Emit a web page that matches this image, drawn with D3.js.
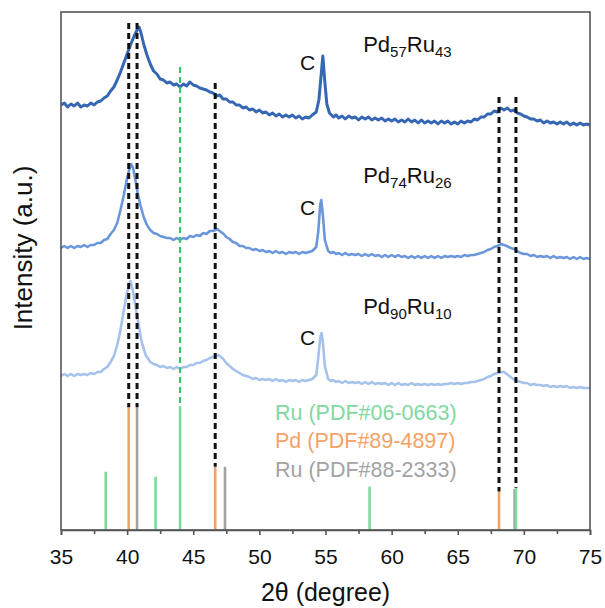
<!DOCTYPE html>
<html>
<head>
<meta charset="utf-8">
<script src="https://cdn.jsdelivr.net/npm/d3@7"></script>
<style>
  html, body { margin: 0; padding: 0; background: #fff; }
  svg { display: block; font-family: "Liberation Sans", Arial, sans-serif; }
</style>
</head>
<body>
<svg id="chart" width="605" height="608"></svg>
<script>
// XRD patterns, [2θ (deg), intensity (a.u., stacked offsets included)]
const pd57ru43 = [
  [35,425],[35.25,427],[35.5,423],[35.75,426],[36,424],[36.25,427],[36.5,423],[36.75,425],[37,424],[37.25,427],
  [37.5,425],[37.75,428],[38,429],[38.25,432],[38.5,434],[38.75,439],[39,443],[39.25,450],[39.5,458],[39.75,467],
  [40,476],[40.25,485],[40.5,493],[40.75,500],[40.9,503],[41.05,497],[41.25,486],[41.5,475],[41.75,466],[42,459],
  [42.25,456],[42.5,451],[42.75,450],[43,447],[43.25,448],[43.5,445],[43.75,446],[44,443],[44.25,446],[44.5,444],
  [44.75,448],[45,445],[45.25,444],[45.5,442],[45.75,441],[46,440],[46.25,438],[46.5,437],[46.75,434],[47,435],
  [47.25,431],[47.5,431],[47.75,428],[48,428],[48.25,425],[48.5,425],[48.75,422],[49,423],[49.25,420],[49.5,421],
  [49.75,418],[50,420],[50.25,417],[50.5,418],[50.75,415],[51,417],[51.25,414],[51.5,416],[51.75,413],[52,415],
  [52.25,413],[52.5,415],[52.75,412],[53,414],[53.25,411],[53.5,413],[53.75,412],[54,415],[54.3,418],[54.5,430],
  [54.65,452],[54.8,474],[54.95,448],[55.1,426],[55.3,417],[55.6,413],[55.8,415],[56,412],[56.25,414],[56.5,411],
  [56.75,414],[57,412],[57.25,413],[57.5,410],[57.75,413],[58,411],[58.25,413],[58.5,410],[58.75,412],[59,410],
  [59.25,412],[59.5,409],[59.75,411],[60,409],[60.25,411],[60.5,408],[60.75,410],[61,408],[61.25,411],[61.5,408],
  [61.75,410],[62,407],[62.25,410],[62.5,407],[62.75,409],[63,407],[63.25,409],[63.5,406],[63.75,409],[64,407],
  [64.25,409],[64.5,406],[64.75,408],[65,406],[65.25,409],[65.5,407],[65.75,409],[66,408],[66.25,411],[66.5,410],
  [66.75,413],[67,413],[67.25,416],[67.5,416],[67.75,419],[68,418],[68.25,422],[68.5,420],[68.75,422],[69,419],
  [69.25,420],[69.5,417],[69.75,416],[70,414],[70.25,413],[70.5,411],[70.75,411],[71,409],[71.25,410],[71.5,407],
  [71.75,409],[72,407],[72.25,408],[72.5,406],[72.75,408],[73,406],[73.25,408],[73.5,405],[73.75,407],[74,405],
  [74.25,407],[74.5,405],[74.75,406],[75,405]
];
const pd74ru26 = [
  [35,282],[35.25,284],[35.5,282],[35.75,284],[36,282],[36.25,284],[36.5,283],[36.75,285],[37,283],[37.25,285],
  [37.5,285],[37.75,287],[38,287],[38.25,290],[38.5,291],[38.75,296],[39,300],[39.25,307],[39.5,320],[39.75,335],
  [40,352],[40.15,360],[40.3,366],[40.45,362],[40.6,352],[40.8,337],[41,325],[41.25,313],[41.5,305],[41.75,300],
  [42,297],[42.25,296],[42.5,294],[42.75,293],[43,292],[43.25,292],[43.5,290],[43.75,292],[44,290],[44.25,292],
  [44.5,291],[44.75,294],[45,293],[45.25,295],[45.5,294],[45.75,297],[46,296],[46.25,299],[46.5,299],[46.8,301],
  [47.1,298],[47.3,296],[47.5,293],[47.75,291],[48,288],[48.25,287],[48.5,284],[48.75,284],[49,282],[49.25,282],
  [49.5,280],[49.75,281],[50,279],[50.25,280],[50.5,278],[50.75,279],[51,277],[51.25,279],[51.5,277],[51.75,278],
  [52,276],[52.25,278],[52.5,277],[52.75,278],[53,276],[53.25,278],[53.5,277],[53.75,278],[54,279],[54.3,283],
  [54.45,298],[54.6,325],[54.68,330],[54.8,315],[54.95,290],[55.2,279],[55.4,277],[55.6,278],[55.8,276],[56,277],
  [56.25,275],[56.5,277],[56.75,275],[57,276],[57.25,275],[57.5,276],[57.75,274],[58,276],[58.25,274],[58.5,276],
  [58.75,274],[59,275],[59.25,273],[59.5,275],[59.75,273],[60,275],[60.25,273],[60.5,275],[60.75,273],[61,274],
  [61.25,272],[61.5,274],[61.75,272],[62,274],[62.25,272],[62.5,274],[62.75,272],[63,274],[63.25,272],[63.5,274],
  [63.75,272],[64,274],[64.25,273],[64.5,274],[64.75,273],[65,274],[65.25,273],[65.5,275],[65.75,274],[66,275],
  [66.25,275],[66.5,276],[66.75,277],[67,278],[67.25,280],[67.5,281],[67.75,283],[68,284],[68.3,286],[68.5,285],
  [68.7,284],[69,282],[69.25,281],[69.5,279],[69.75,277],[70,276],[70.25,276],[70.5,274],[70.75,275],[71,273],
  [71.25,274],[71.5,273],[71.75,274],[72,272],[72.25,274],[72.5,272],[72.75,273],[73,272],[73.25,273],[73.5,271],
  [73.75,273],[74,271],[74.25,273],[74.5,271],[74.75,272],[75,271]
];
const pd90ru10 = [
  [35,154],[35.25,156],[35.5,154],[35.75,156],[36,154],[36.25,156],[36.5,155],[36.75,156],[37,155],[37.25,157],
  [37.5,156],[37.75,158],[38,158],[38.25,161],[38.5,163],[38.75,168],[39,174],[39.25,185],[39.5,200],[39.75,220],
  [40,238],[40.15,246],[40.25,249],[40.4,242],[40.6,226],[40.85,207],[41.1,188],[41.4,175],[41.75,168],[42,166],
  [42.25,165],[42.5,163],[42.75,164],[43,162],[43.25,163],[43.5,161],[43.75,163],[44,161],[44.25,163],[44.5,163],
  [44.75,165],[45,165],[45.25,167],[45.5,167],[45.75,169],[46,170],[46.25,172],[46.5,173],[46.9,175],[47.2,172],
  [47.5,167],[47.75,164],[48,161],[48.25,159],[48.5,157],[48.75,155],[49,154],[49.25,153],[49.5,151],[49.75,152],
  [50,150],[50.25,151],[50.5,150],[50.75,151],[51,149],[51.25,151],[51.5,149],[51.75,150],[52,148],[52.25,150],
  [52.5,149],[52.75,150],[53,148],[53.25,150],[53.5,149],[53.75,150],[54,151],[54.3,155],[54.45,172],[54.6,192],
  [54.7,197],[54.8,188],[54.95,164],[55.2,151],[55.4,149],[55.6,150],[55.8,148],[56,149],[56.25,147],[56.5,149],
  [56.75,147],[57,148],[57.25,147],[57.5,148],[57.75,146],[58,148],[58.25,146],[58.5,148],[58.75,146],[59,147],
  [59.25,146],[59.5,147],[59.75,145],[60,147],[60.25,145],[60.5,147],[60.75,145],[61,146],[61.25,145],[61.5,147],
  [61.75,145],[62,146],[62.25,145],[62.5,146],[62.75,145],[63,146],[63.25,145],[63.5,146],[63.75,145],[64,146],
  [64.25,146],[64.5,147],[64.75,146],[65,147],[65.25,146],[65.5,147],[65.75,147],[66,148],[66.25,148],[66.5,149],
  [66.75,150],[67,151],[67.25,153],[67.5,154],[67.75,156],[68,157],[68.3,158],[68.5,158],[68.7,156],[68.9,154],
  [69.1,152],[69.3,150],[69.5,149],[69.75,148],[70,147],[70.25,147],[70.5,145],[70.75,146],[71,145],[71.25,145],
  [71.5,144],[71.75,145],[72,143],[72.25,144],[72.5,143],[72.75,144],[73,143],[73.25,144],[73.5,142],[73.75,143],
  [74,142],[74.25,143],[74.5,142],[74.75,142],[75,142]
];

// Sample names (main part, subscript) and where they sit
const sampleNames = [["Pd","57","Ru","43"],["Pd","74","Ru","26"],["Pd","90","Ru","10"]];
const sampleLabelAt = [[57.85,478],[57.85,347],[57.85,216]];
const carbonLabelAt = [[53.07,460],[53.07,315],[53.07,185]];

// Reference patterns: positions (2θ) and relative intensities
const ruHcpTheta = [38.38, 42.15, 44.0, 58.33, 69.4];
const ruHcpInt   = [47, 43, 100, 35, 34];
const pdTheta    = [40.12, 46.66, 68.12];
const pdInt      = [99, 51, 31];
const ruFccTheta = [40.75, 47.4, 69.3];
const ruFccInt   = [99, 51, 33];

const refNames  = ["Ru (PDF#06-0663)", "Pd (PDF#89-4897)", "Ru (PDF#88-2333)"];
const refLegendAt = [[51.18,110],[51.18,82],[51.18,53]];

// Guide lines: 2θ, top intensity, and the reference they drop onto
const guideTheta = [40.12, 40.75, 46.66, 68.12, 69.4];
const guideTop   = [507, 507, 447, 433, 433];
const guideRef   = ["pd", "ruFcc", "pd", "pd", "ruHcp"];
const ruGuideTheta = 44.0;
const ruGuideTop   = 463;

const xTicks = [35, 40, 45, 50, 55, 60, 65, 70, 75];
const xMinorTicks = [37.5, 42.5, 47.5, 52.5, 57.5, 62.5, 67.5, 72.5];

const colors = {
  s1: "#3567b5", s2: "#6a97dc", s3: "#a5c2ec",
  ruHcp: "#7fd9a0", pd: "#f5a266", ruFcc: "#a3a3a3",
  ruGuide: "#34c86b", guide: "#111111", frame: "#555555"
};

const svg = d3.select("#chart");
const L = 61, R = 590, T = 12, B = 530;

const x = d3.scaleLinear().domain([35, 75]).range([L, R]);
const y = d3.scaleLinear().domain([0, 518]).range([B, T]);
const yStick = d3.scaleLinear().domain([0, 100]).range([B, 406]);

const refs = {
  ruHcp: ruHcpTheta.map((t, i) => ({t, v: ruHcpInt[i]})),
  pd: pdTheta.map((t, i) => ({t, v: pdInt[i]})),
  ruFcc: ruFccTheta.map((t, i) => ({t, v: ruFccInt[i]}))
};

// Reference sticks
["ruFcc", "pd", "ruHcp"].forEach(key => {
  svg.append("g").selectAll("line").data(refs[key]).join("line")
    .attr("x1", d => x(d.t)).attr("x2", d => x(d.t))
    .attr("y1", B).attr("y2", d => yStick(d.v))
    .attr("stroke", colors[key]).attr("stroke-width", 2.6);
});

// Spectra
const line = d3.line().x(d => x(d[0])).y(d => y(d[1]));
[[pd90ru10, colors.s3, 2.6], [pd74ru26, colors.s2, 2.6], [pd57ru43, colors.s1, 3]].forEach(([data, c, w]) => {
  svg.append("path").datum(data).attr("d", line)
    .attr("fill", "none").attr("stroke", c).attr("stroke-width", w)
    .attr("stroke-linejoin", "round");
});

// Dashed guides
function stickTop(refKey, t) {
  const s = refs[refKey].reduce((a, b) => Math.abs(b.t - t) < Math.abs(a.t - t) ? b : a);
  return yStick(s.v);
}
svg.append("g").selectAll("line").data(guideTheta).join("line")
  .attr("x1", d => x(d)).attr("x2", d => x(d))
  .attr("y1", (d, i) => y(guideTop[i]))
  .attr("y2", (d, i) => stickTop(guideRef[i], d))
  .attr("stroke", colors.guide).attr("stroke-width", 3)
  .attr("stroke-dasharray", "6,4");
svg.append("line")
  .attr("x1", x(ruGuideTheta)).attr("x2", x(ruGuideTheta))
  .attr("y1", y(ruGuideTop)).attr("y2", stickTop("ruHcp", ruGuideTheta))
  .attr("stroke", colors.ruGuide).attr("stroke-width", 2.2)
  .attr("stroke-dasharray", "6,4");

// Sample labels with subscripts
sampleNames.forEach((parts, i) => {
  const [t, v] = sampleLabelAt[i];
  const txt = svg.append("text").attr("x", x(t)).attr("y", y(v))
    .attr("font-size", 22).attr("fill", "#111");
  txt.append("tspan").text(parts[0]);
  txt.append("tspan").attr("font-size", 15).attr("dy", 5).text(parts[1]);
  txt.append("tspan").attr("dy", -5).text(parts[2]);
  txt.append("tspan").attr("font-size", 15).attr("dy", 5).text(parts[3]);
});
svg.append("g").selectAll("text").data(carbonLabelAt).join("text")
  .attr("x", d => x(d[0])).attr("y", d => y(d[1]))
  .attr("font-size", 21).attr("fill", "#111").text("C");

// Reference legend
const legendColors = [colors.ruHcp, colors.pd, colors.ruFcc];
svg.append("g").selectAll("text").data(refNames).join("text")
  .attr("x", (d, i) => x(refLegendAt[i][0])).attr("y", (d, i) => y(refLegendAt[i][1]))
  .attr("font-size", 21.5).attr("fill", (d, i) => legendColors[i]).text(d => d);

// Frame
svg.append("rect").attr("x", L).attr("y", T).attr("width", R - L).attr("height", B - T)
  .attr("fill", "none").attr("stroke", colors.frame).attr("stroke-width", 1.6);

// X axis
const xAxis = d3.axisBottom(x).tickValues(xTicks).tickSize(5).tickPadding(14).tickFormat(d3.format("d"));
const gx = svg.append("g").attr("transform", `translate(0,${B})`).call(xAxis);
gx.select(".domain").attr("stroke", colors.frame).attr("stroke-width", 1.6);
gx.selectAll(".tick line").attr("stroke", colors.frame).attr("stroke-width", 1.6);
gx.selectAll(".tick text").attr("font-size", 21).attr("fill", "#111")
  .attr("font-family", "'Liberation Sans', Arial, sans-serif");
const xMinor = d3.axisBottom(x).tickValues(xMinorTicks).tickSize(4).tickFormat("");
const gm = svg.append("g").attr("transform", `translate(0,${B})`).call(xMinor);
gm.select(".domain").remove();
gm.selectAll(".tick line").attr("stroke", colors.frame).attr("stroke-width", 1.6);

// Axis titles
svg.append("text").attr("x", (L + R) / 2).attr("y", 601).attr("text-anchor", "middle")
  .attr("font-size", 25).attr("fill", "#111").text("2θ (degree)");
svg.append("text").attr("transform", "translate(32,248) rotate(-90)").attr("text-anchor", "middle")
  .attr("font-size", 26).attr("fill", "#111").text("Intensity (a.u.)");
</script>
</body>
</html>
